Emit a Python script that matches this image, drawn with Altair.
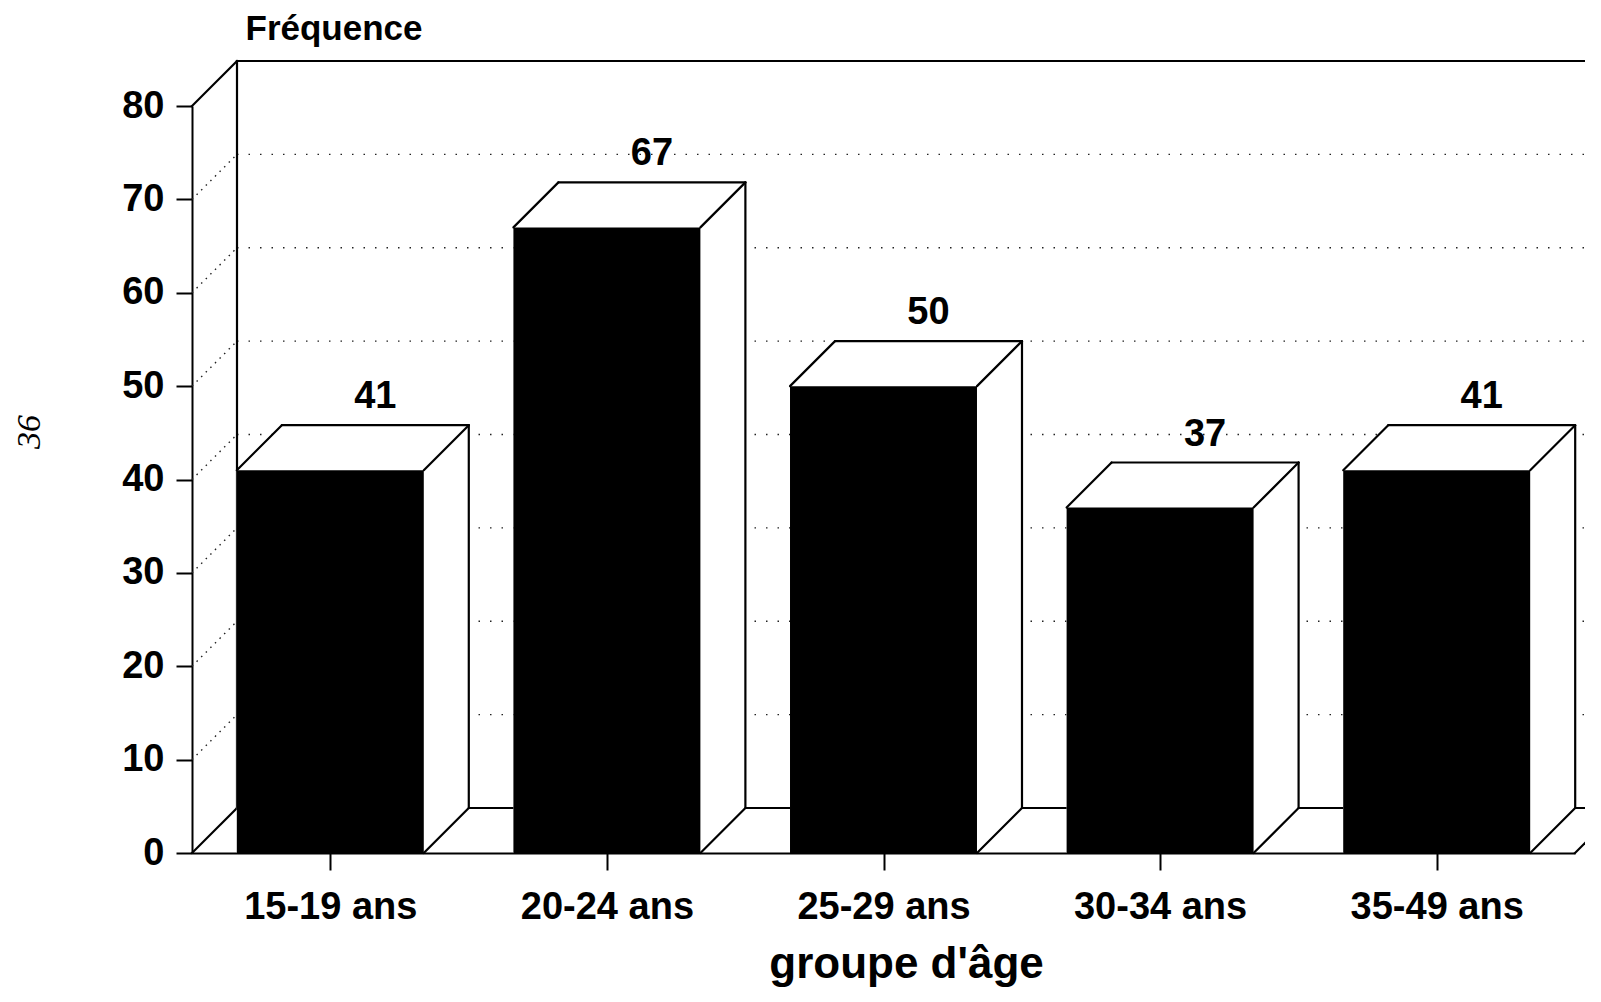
import json
import altair as alt
import pandas as pd

# ---------------- data ----------------
categories = ["15-19 ans", "20-24 ans", "25-29 ans", "30-34 ans", "35-49 ans"]
frequencies = [41, 67, 50, 37, 41]
y_ticks = [0, 10, 20, 30, 40, 50, 60, 70, 80]
page_number = ["36"]

# ---------------- style / geometry ----------------
W, H = 1383, 747
X_DOMAIN = [-0.5, len(categories) - 0.5]
Y_DOMAIN = [0, 80]
DEPTH_PX = 45
DX = DEPTH_PX * (X_DOMAIN[1] - X_DOMAIN[0]) / W
DY = DEPTH_PX * (Y_DOMAIN[1] - Y_DOMAIN[0]) / H
HALF = 0.338
FONT = "Liberation Sans"
LW = 2.2

xs = alt.Scale(domain=X_DOMAIN, nice=False, zero=False)
ys = alt.Scale(domain=Y_DOMAIN, nice=False, zero=False)

label_expr = json.dumps(categories) + "[datum.value]"
x_axis = alt.Axis(
    values=list(range(len(categories))), labelExpr=label_expr,
    title="groupe d'âge", titleFont=FONT, titleFontSize=44, titleFontWeight="bold",
    titleX=714, titleY=124, titleBaseline="alphabetic", titleAlign="center",
    labelFont=FONT, labelFontSize=38, labelFontWeight="bold", labelColor="black",
    labelPadding=18, tickSize=17, tickWidth=2, tickColor="black",
    domainColor="black", domainWidth=2, grid=False, labelFlush=False,
)
y_axis = alt.Axis(
    values=y_ticks, title="Fréquence", titleAngle=0, titleX=53, titleY=-67,
    titleAlign="left", titleBaseline="alphabetic", titleFont=FONT,
    titleFontSize=35, titleFontWeight="bold",
    labelFont=FONT, labelFontSize=38, labelFontWeight="bold", labelColor="black",
    labelPadding=12, tickSize=16, tickWidth=2, tickColor="black",
    domainColor="black", domainWidth=2, grid=False,
)


def X(field):
    return alt.X(field, type="quantitative", scale=xs, axis=x_axis)


def Y(field):
    return alt.Y(field, type="quantitative", scale=ys, axis=y_axis, stack=None)


# ---------------- derived tables ----------------
bars = pd.DataFrame({
    "i": range(len(categories)),
    "cat": categories,
    "v": frequencies,
})
bars["x0"] = bars["i"] - HALF
bars["x1"] = bars["i"] + HALF
bars["zero"] = 0.0
bars["bx"] = bars["i"] + DX
bars["by"] = bars["v"] + DY

hex_rows = []
for r in bars.itertuples():
    hex_rows += [
        dict(b=r.i, x=r.x0, top=r.v, bot=0.0),
        dict(b=r.i, x=r.x0 + DX, top=r.v + DY, bot=0.0),
        dict(b=r.i, x=r.x1, top=r.v + DY, bot=0.0),
        dict(b=r.i, x=r.x1 + DX, top=r.v + DY, bot=DY),
    ]
hexes = pd.DataFrame(hex_rows)

edge_rows = []
for r in bars.itertuples():
    edge_rows += [
        dict(x=r.x0, y=r.v, x2=r.x0 + DX, y2=r.v + DY),
        dict(x=r.x0 + DX, y=r.v + DY, x2=r.x1 + DX, y2=r.v + DY),
        dict(x=r.x1, y=r.v, x2=r.x1 + DX, y2=r.v + DY),
        dict(x=r.x1 + DX, y=r.v + DY, x2=r.x1 + DX, y2=DY),
        dict(x=r.x1, y=0.0, x2=r.x1 + DX, y2=DY),
    ]
edges = pd.DataFrame(edge_rows)

L, R = X_DOMAIN
T = Y_DOMAIN[1]
walls = pd.DataFrame([
    dict(x=L + DX, y=T + DY, x2=R + DX, y2=T + DY),   # back wall top
    dict(x=L + DX, y=DY, x2=L + DX, y2=T + DY),        # back wall left
    dict(x=R + DX, y=DY, x2=R + DX, y2=T + DY),        # back wall right
    dict(x=L + DX, y=DY, x2=R + DX, y2=DY),            # floor back edge
    dict(x=R, y=0.0, x2=R + DX, y2=DY),                # floor right diagonal
    dict(x=L, y=T, x2=L + DX, y2=T + DY),              # left wall top diagonal
    dict(x=L, y=0.0, x2=L + DX, y2=DY),                # left wall bottom diagonal
])

grid_levels = [v for v in y_ticks if Y_DOMAIN[0] < v < Y_DOMAIN[1]]
back_grid = pd.DataFrame([dict(x=L + DX, x2=R + DX, y=v + DY) for v in grid_levels])
side_grid = pd.DataFrame([dict(x=L, y=v, x2=L + DX, y2=v + DY) for v in grid_levels])

# ---------------- layers ----------------
wall_layer = alt.Chart(walls).mark_rule(color="black", strokeWidth=LW, strokeCap="square").encode(
    x=X("x"), y=Y("y"), x2="x2", y2="y2")

back_grid_layer = alt.Chart(back_grid).mark_rule(
    color="#222", strokeWidth=1.4, strokeDash=[1.5, 10]).encode(x=X("x"), x2="x2", y=Y("y"))

side_grid_layer = alt.Chart(side_grid).mark_rule(
    color="#222", strokeWidth=1.4, strokeDash=[1.5, 5]).encode(x=X("x"), y=Y("y"), x2="x2", y2="y2")

hex_layer = alt.Chart(hexes).mark_area(color="white", opacity=1, interpolate="linear").encode(
    x=X("x"), y=Y("top"), y2="bot", detail="b:N")

front_layer = alt.Chart(bars).mark_rect(color="black").encode(
    x=X("x0"), x2="x1", y=Y("v"), y2="zero")

edge_layer = alt.Chart(edges).mark_rule(color="black", strokeWidth=LW, strokeCap="round").encode(
    x=X("x"), y=Y("y"), x2="x2", y2="y2")

label_layer = alt.Chart(bars).mark_text(
    font=FONT, fontSize=38, fontWeight="bold", color="black",
    baseline="alphabetic", align="center", dy=-17).encode(
    x=X("bx"), y=Y("by"), text="v:Q")

page_layer = alt.Chart(pd.DataFrame({"t": page_number})).mark_text(
    font="Liberation Serif", fontStyle="italic", fontSize=34, angle=270,
    align="center", baseline="middle", color="black").encode(
    x=alt.value(-162), y=alt.value(326), text="t:N")

chart = alt.layer(
    back_grid_layer, side_grid_layer, wall_layer, hex_layer, front_layer,
    edge_layer, label_layer, page_layer,
).properties(
    width=W, height=H,
    padding={"left": 184, "top": 98, "right": 10, "bottom": 134},
    autosize=alt.AutoSizeParams(type="none"),
    background="white",
).configure_view(stroke=None)

chart.save("out.html", embed_options={"renderer": "svg", "actions": False})
